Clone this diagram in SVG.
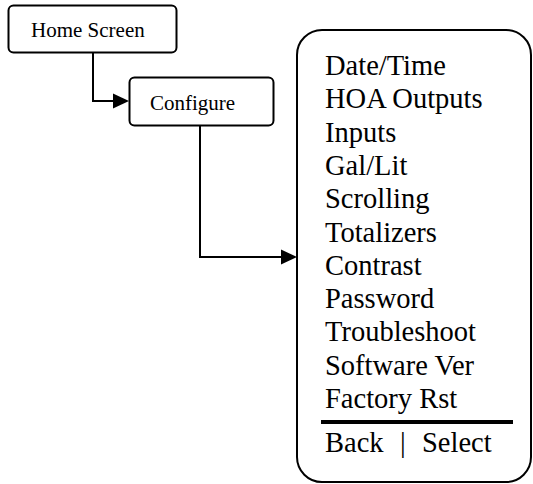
<svg xmlns="http://www.w3.org/2000/svg" width="533" height="484" viewBox="0 0 533 484">
<defs>
<style>
.box{fill:#fff;stroke:#000;stroke-width:2}
.t{font-family:"Liberation Serif","Times New Roman",serif;fill:#000}
.s{font-size:21px}
.m{font-size:28.5px}
.c{fill:none;stroke:#000;stroke-width:2}
</style>
</defs>
<rect width="533" height="484" fill="#fff"/>
<g id="connectors">
<polyline class="c" points="93,53 93,101 114,101"/>
<path d="M113,93.5 L129,101 L113,108.5 z" fill="#000"/>
<polyline class="c" points="200,126 200,257 282,257"/>
<path d="M281,249.5 L297,257 L281,264.5 z" fill="#000"/>
</g>
<g id="home">
<rect class="box" x="8.5" y="5.5" width="168" height="47" rx="5"/>
<text class="t s" x="31" y="37">Home Screen</text>
</g>
<g id="configure">
<rect class="box" x="129.5" y="77.5" width="144" height="48" rx="5"/>
<text class="t s" x="150" y="110">Configure</text>
</g>
<g id="menu">
<rect class="box" x="297" y="30" width="234" height="452" rx="25"/>
<g class="t m">
<text x="325" y="75">Date/Time</text>
<text x="325" y="108">HOA Outputs</text>
<text x="325" y="142">Inputs</text>
<text x="325" y="175">Gal/Lit</text>
<text x="325" y="208">Scrolling</text>
<text x="325" y="242">Totalizers</text>
<text x="325" y="275">Contrast</text>
<text x="325" y="308">Password</text>
<text x="325" y="341">Troubleshoot</text>
<text x="325" y="375">Software Ver</text>
<text x="325" y="408">Factory Rst</text>
<text x="325" y="452">Back</text>
<text x="400" y="452">|</text>
<text x="422" y="452">Select</text>
</g>
<line x1="321" y1="422" x2="513" y2="422" stroke="#000" stroke-width="4"/>
</g>
</svg>
